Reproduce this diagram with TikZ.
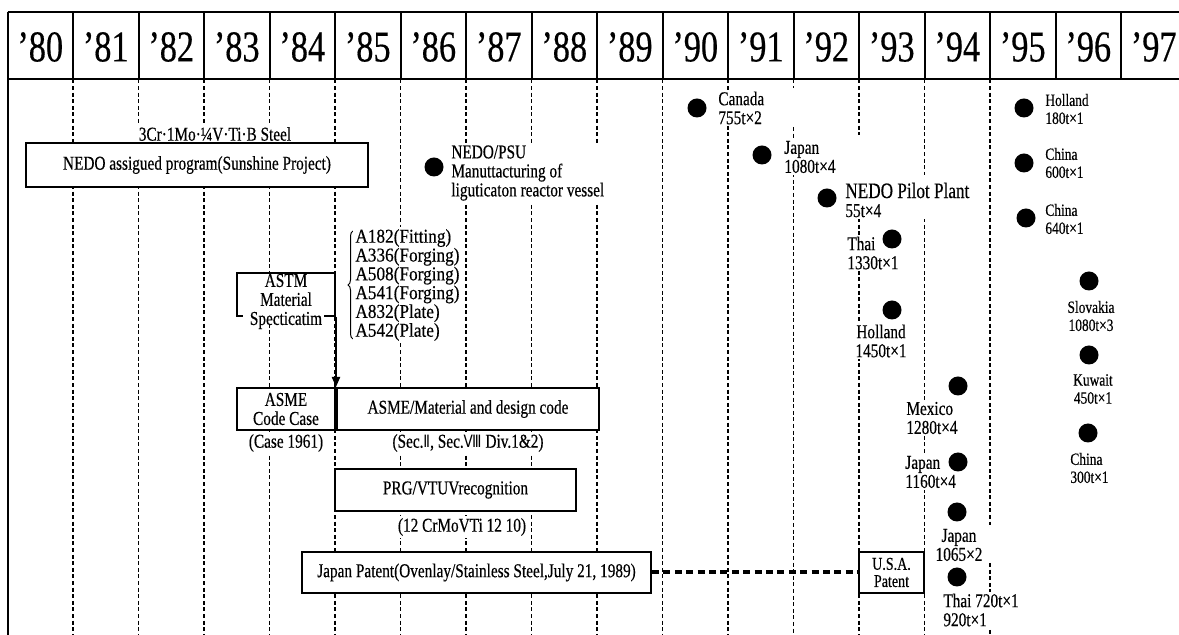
\documentclass[tikz,border=0pt]{standalone}
\usepackage{fontspec}
\setmainfont{Liberation Serif}[FakeStretch=0.78,FakeBold=0.4]
\newfontfamily\widefont{Liberation Serif}[FakeStretch=0.88,FakeBold=0.4]
\newfontfamily\romfont{DejaVu Sans}[FakeStretch=0.8]
\usetikzlibrary{arrows.meta,decorations.pathreplacing}
\newcommand\txtf{\fontsize{9.8}{9.5}\selectfont}
\newcommand\smlf{\fontsize{8.6}{9}\selectfont}
\begin{document}
\begin{tikzpicture}[x=0.5pt,y=-0.5pt,
  gridline/.style={line width=0.6pt, dash pattern=on 2pt off 1.3pt},
  frame/.style={line width=1pt},
  box/.style={draw, line width=1pt, fill=white, inner sep=0pt, align=center, font=\txtf},
  lbl/.style={fill=white, inner sep=1pt, align=left, font=\txtf},
  lblc/.style={fill=white, inner sep=1pt, align=center, font=\txtf},
  lbls/.style={fill=white, inner sep=1pt, align=left, font=\smlf},
  lblsc/.style={fill=white, inner sep=1pt, align=center, font=\smlf},
  dot/.style={circle, fill=black, minimum size=9.5pt, inner sep=0pt},
  yr/.style={font=\fontsize{22}{22}\selectfont, inner sep=0pt}]
\useasboundingbox (0,0) rectangle (1179,635);
% header
\draw[frame] (7.5,12.5) -- (1179,12.5);
\draw[frame] (7.5,79.5) -- (1179,79.5);
\foreach \k in {0,...,17} \draw[frame] (7.5+65.5*\k,12.5) -- (7.5+65.5*\k,79.5);
\draw[frame] (7.5,12.5) -- (7.5,635);
\foreach \y [count=\k from 0] in {80,...,97}
  \node[yr] (y\y) at (7.5+65.5*\k+32.75,47) {’\y};
% dashed year lines
\foreach \k in {1,...,11} \draw[gridline] (7.5+65.5*\k,79.5) -- (7.5+65.5*\k,635);
\draw[gridline] (793.5,79.5) -- (793.5,88) (793.5,127) -- (793.5,635);
\draw[gridline] (859,79.5) -- (859,135) (859,218) -- (859,635);
\draw[gridline] (924.5,79.5) -- (924.5,175) (924.5,218) -- (924.5,635);
\draw[gridline] (990,79.5) -- (990,525) (990,563) -- (990,592) (990,630) -- (990,635);
% left programme
\node[lblc] (steel) at (215,134) {3Cr·1Mo·¼V·Ti·B Steel};
\node[box, minimum width=171pt, minimum height=22pt] (nedo) at (197,165) {NEDO assigued program(Sunshine Project)};
\node[lbl, anchor=west] (psu) at (449,173) {NEDO/PSU\\Manuttacturing of\\liguticaton reactor vessel};
% ASTM
\node[draw, line width=1pt, fill=white, minimum width=49pt, minimum height=21.5pt, inner sep=0pt] (astm) at (286,294.5) {};
\fill[white] (243,311) rectangle (324,321);
\node[inner sep=1pt, align=center, font=\txtf] (astmt) at (286,301.5) {ASTM\\Material\\Specticatim};
\draw[line width=0.5pt, decorate, decoration={brace, amplitude=2.5pt}] (353,339) -- (353,231);
\node[fill=white, inner sep=1pt, align=left, anchor=west, font=\widefont\fontsize{9.8}{9.4}\selectfont] (alist) at (353,285)
  {A182(Fitting)\\A336(Forging)\\A508(Forging)\\A541(Forging)\\A832(Plate)\\A542(Plate)};
% ASME
\node[box, minimum width=49pt, minimum height=21pt] (asmecc) at (286,409) {ASME\\Code Case};
\node[box, minimum width=131pt, minimum height=21pt, anchor=west] (asmemd) at (asmecc.east) {ASME/Material and design code};
\draw[line width=1pt, -{Triangle[length=5pt,width=4pt]}] (astm.south east) -- (asmecc.north east);
\node[lblc] (case) at (286,443) {(Case 1961)};
\node[lblc] (sec) at (468,443) {(Sec.{\romfont\fontsize{8.5}{9}\selectfont Ⅱ}, Sec.{\romfont\fontsize{8.5}{9}\selectfont Ⅷ} Div.1\&2)};
% PRG
\node[box, minimum width=120.5pt, minimum height=21pt] (prg) at (455.5,490) {PRG/VTUVrecognition};
\node[lblc] (crmo) at (462,527) {(12 CrMoVTi 12 10)};
% patents
\node[box, minimum width=174.5pt, minimum height=20.5pt] (jp) at (476.5,572.5) {Japan Patent(Ovenlay/Stainless Steel,July 21, 1989)};
\node[box, minimum width=32.5pt, minimum height=20.5pt, font=\fontsize{9}{8.6}\selectfont] (usa) at (891.5,572.5) {U.S.A.\\Patent};
\draw[line width=2pt, dash pattern=on 3.5pt off 2.2pt] (jp.east) -- (usa.west);
% plant labels
\node[lbl, anchor=west] (l1) at (716,108) {Canada\\755t×2};
\node[lbl, anchor=west] (l2) at (782,157) {Japan\\1080t×4};
\node[lbl, anchor=west] (l3) at (843,200) {{\fontsize{11}{9.5}\selectfont NEDO Pilot Plant}\\55t×4};
\node[lbl, anchor=west] (l4) at (845,253) {Thai\\1330t×1};
\node[lblc] (l5) at (881,341) {Holland\\1450t×1};
\node[lbl, anchor=west] (l6) at (904,418) {Mexico\\1280t×4};
\node[lbl, anchor=west] (l7) at (903,472) {Japan\\1160t×4};
\node[lblc] (l8) at (959,545) {Japan\\1065×2};
\node[lbl, anchor=west] (l9) at (941,610) {Thai 720t×1\\920t×1};
\node[lbls, anchor=west] (l10) at (1043,109) {Holland\\180t×1};
\node[lbls, anchor=west] (l11) at (1043,163) {China\\600t×1};
\node[lbls, anchor=west] (l12) at (1043,219) {China\\640t×1};
\node[lblsc] (l13) at (1091,316) {Slovakia\\1080t×3};
\node[lblsc] (l14) at (1093,389) {Kuwait\\450t×1};
\node[lbls, anchor=west] (l15) at (1068,468) {China\\300t×1};
% dots
\node[dot] (psud) at (434,167) {};
\node[dot] (d1) at (697,108) {};
\node[dot] (d2) at (762,155) {};
\node[dot] (d3) at (827,198) {};
\node[dot] (d4) at (892,239) {};
\node[dot] (d5) at (892,310) {};
\node[dot] (d6) at (958,386) {};
\node[dot] (d7) at (958,462) {};
\node[dot] (d8) at (957,512) {};
\node[dot] (d9) at (957,577) {};
\node[dot] (d10) at (1024,108) {};
\node[dot] (d11) at (1024,163) {};
\node[dot] (d12) at (1026,218) {};
\node[dot] (d13) at (1089,281) {};
\node[dot] (d14) at (1089,355) {};
\node[dot] (d15) at (1088,433) {};
\end{tikzpicture}
\end{document}
